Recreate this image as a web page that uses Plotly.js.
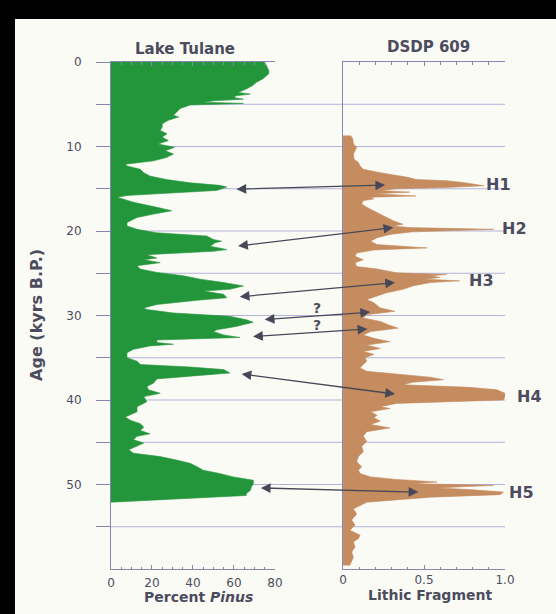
<!DOCTYPE html>
<html><head><meta charset="utf-8">
<script src="https://cdn.plot.ly/plotly-3.0.1.min.js"></script>
<style>
html,body{margin:0;padding:0;background:#000;width:556px;height:614px;overflow:hidden}
#chart{position:absolute;left:15px;top:19px;width:541px;height:595px}
</style></head><body><div id="chart"></div>
<script>
// ---- Data: Lake Tulane, percent Pinus vs age (kyr B.P.) ----
const pinusAge = [
0, 0.5, 1.0, 1.4, 2.0, 2.4, 2.8, 3.2, 3.6, 3.8,
4.0, 4.2, 4.4, 4.6, 4.75, 4.9, 5.1, 5.5, 5.9, 6.3,
6.5, 6.9, 7.3, 7.7, 8.1, 8.5, 8.9, 9.3, 9.7, 10.1,
10.5, 10.9, 11.3, 11.7, 12.1, 12.3, 12.7, 13.1, 13.5, 13.9,
14.3, 14.6, 14.8, 15.2, 15.6, 15.8, 16.0, 16.6, 17.2, 17.6,
18.0, 18.4, 19.0, 19.4, 19.8, 20.2, 20.6, 21.0, 21.2, 21.4,
21.8, 22.2, 22.4, 22.8, 23.2, 23.4, 23.75, 24.1, 24.5, 24.9,
25.3, 25.7, 26.1, 26.5, 26.9, 27.1, 27.5, 27.9, 28.2, 28.7,
29.1, 29.3, 29.7, 30.1, 30.5, 30.8, 31.3, 31.7, 31.9, 32.3,
32.6, 32.9, 33.2, 33.4, 33.6, 34.0, 34.4, 35.0, 35.4, 35.8,
36.1, 36.4, 36.8, 37.2, 37.5, 38.0, 38.4, 38.8, 39.2, 39.6,
40.2, 40.8, 41.4, 42.0, 42.4, 42.8, 43.2, 43.6, 44.0, 44.3,
44.7, 45.1, 45.5, 45.9, 46.3, 46.7, 47.1, 47.5, 47.9, 48.3,
48.7, 49.1, 49.5, 49.9, 50.3, 50.7, 51.1, 51.3, 52.1
];
const pinusPct = [
75, 76, 77, 77, 74, 71, 69, 66, 62, 68,
61, 60, 64.6, 50, 45, 64.6, 38.6, 33.8, 32, 30.5,
33, 28, 25, 25, 24, 27.3, 25, 28, 23, 31,
26.5, 30.5, 27, 20.8, 7, 7.8, 14.3, 16, 19, 27,
38.6, 53, 56.5, 51.6, 22.4, 7.8, 3, 11, 22.4, 29.7,
20.8, 12.7, 7.8, 7.8, 12.7, 22, 46.7, 50, 54, 50.8,
48.4, 56.5, 50, 17.5, 22.4, 16, 24, 12.7, 14.3, 22.4,
35.4, 43.5, 55, 64.6, 58, 45, 55, 56.5, 42, 22.4,
16, 17.5, 30.5, 58, 66, 69.5, 61, 51.6, 50, 55,
63, 22.4, 22.4, 30.5, 19, 11, 7.8, 7.8, 12.7, 14.3,
38.6, 55, 58, 38.6, 22.4, 20.8, 17.5, 18.3, 24, 16,
17.5, 12.7, 12.7, 7, 9.4, 14.3, 16, 14.3, 19, 12.7,
11, 16, 12.7, 8.6, 11, 24, 32, 38.6, 42, 45,
53, 59.7, 69.5, 69.5, 68.5, 68, 66, 66, 0
];
// ---- Data: DSDP 609, lithic fragment vs age ----
const lithicAge = [
8.7, 9.1, 9.7, 10.1, 10.5, 10.9, 11.5, 11.9, 12.3, 12.7,
13.1, 13.3, 13.5, 13.65, 13.9, 14.05, 14.25, 14.45, 14.65, 14.85,
15.0, 15.2, 15.4, 15.6, 15.85, 16.0, 16.2, 16.4, 16.8, 17.2,
17.6, 18.0, 18.4, 18.8, 19.2, 19.4, 19.6, 19.8, 20.1, 20.4,
20.8, 21.2, 21.6, 22.0, 22.25, 22.6, 23.0, 23.4, 23.75, 24.2,
24.5, 24.95, 25.15, 25.3, 25.5, 25.7, 25.9, 26.1, 26.5, 26.9,
27.3, 27.7, 28.1, 28.5, 29.1, 29.5, 29.9, 30.3, 30.7, 31.1,
31.5, 31.9, 32.3, 32.7, 33.1, 33.5, 33.9, 34.25, 34.6, 35.0,
35.4, 35.8, 36.2, 36.6, 37.0, 37.3, 37.6, 37.9, 38.2, 38.5,
38.8, 39.2, 39.6, 40.0, 40.4, 40.8, 41.0, 41.4, 41.8, 42.1,
42.5, 42.9, 43.3, 43.75, 44.3, 44.9, 45.5, 46.1, 46.7, 47.3,
47.9, 48.3, 48.7, 49.1, 49.4, 49.7, 49.9, 50.1, 50.4, 50.6,
50.9, 51.2, 51.5, 51.8, 52.1, 52.5, 52.9, 53.5, 54.2, 54.8,
55.4, 56.0, 56.4, 56.8, 57.4, 58.0, 58.6, 59.2, 59.6
];
const lithicVal = [
0.047, 0.06, 0.064, 0.084, 0.074, 0.064, 0.068, 0.095, 0.105, 0.125,
0.23, 0.29, 0.37, 0.40, 0.45, 0.64, 0.74, 0.80, 0.87, 0.64,
0.33, 0.23, 0.41, 0.19, 0.45, 0.17, 0.19, 0.125, 0.115, 0.146,
0.19, 0.23, 0.27, 0.31, 0.37, 0.31, 0.41, 0.93, 0.43, 0.29,
0.21, 0.17, 0.21, 0.52, 0.19, 0.084, 0.074, 0.125, 0.074, 0.084,
0.21, 0.33, 0.64, 0.54, 0.60, 0.50, 0.72, 0.54, 0.43, 0.37,
0.27, 0.21, 0.146, 0.19, 0.23, 0.32, 0.146, 0.125, 0.23, 0.28,
0.34, 0.17, 0.125, 0.19, 0.29, 0.146, 0.23, 0.125, 0.19, 0.136,
0.146, 0.125, 0.105, 0.146, 0.35, 0.54, 0.62, 0.43, 0.37, 0.78,
0.95, 1.0, 1.0, 0.99, 0.33, 0.23, 0.29, 0.17, 0.21, 0.19,
0.23, 0.17, 0.29, 0.146, 0.125, 0.146, 0.115, 0.125, 0.095, 0.084,
0.115, 0.095, 0.105, 0.17, 0.33, 0.58, 0.43, 0.93, 0.58, 0.78,
0.99, 0.97, 0.54, 0.33, 0.146, 0.105, 0.064, 0.084, 0.053, 0.074,
0.043, 0.105, 0.095, 0.064, 0.074, 0.053, 0.064, 0.05, 0.04
];
// ---- Correlation arrows (Pinus end <-> lithic end) ----
const arrowPinusAge  = [15.05, 21.8, 27.8, 30.5, 32.5, 36.9, 50.4];
const arrowPinus     = [60.5, 61.3, 62.1, 74.3, 68.6, 63.0, 72.4];
const arrowLithicAge = [14.57, 19.6, 26.1, 29.6, 31.6, 39.3, 50.9];
const arrowLithic    = [0.26, 0.31, 0.321, 0.167, 0.15, 0.321, 0.465];
// ---- Heinrich event labels ----
const heinrichLabels = ['H1', 'H2', 'H3', 'H4', 'H5'];
const heinrichAge    = [14.45, 19.7, 25.8, 39.6, 51.0];
const heinrichLithic = [0.959, 1.06, 0.856, 1.154, 1.103];
// ---- Uncertain correlations ----
const questionAge = [29.15, 31.1];
// ---- Axis ticks ----
const ageTickVals = [0, 5, 10, 15, 20, 25, 30, 35, 40, 45, 50, 55];
const ageTickText = ['0', '', '10', '', '20', '', '30', '', '40', '', '50', ''];
const pinusTickVals = [0, 20, 40, 60, 80];
const lithicTickVals = [0, 0.5, 1];
const lithicTickText = ['0', '0.5', '1.0'];

const GREEN = '#23963b', BROWN = '#c48c5f', AX = '#8587b0', GRID = '#b1b3da',
      TXT = '#4b4c5e', ARROW = '#474857', FONT = 'DejaVu Sans';
const LEFT_DOM = [0, 0.416], RIGHT_DOM = [0.589, 1];
const PINUS_MAX = 80, LITHIC_MAX = 1;
const fracLeft = v => LEFT_DOM[0] + (LEFT_DOM[1] - LEFT_DOM[0]) * v / PINUS_MAX;
const fracRight = v => RIGHT_DOM[0] + (RIGHT_DOM[1] - RIGHT_DOM[0]) * v / LITHIC_MAX;
const Q_X = 0.524;

const traces = [
  {x: pinusPct, y: pinusAge, type: 'scatter', mode: 'lines', fill: 'tozerox',
   fillcolor: GREEN, line: {color: GREEN, width: 0.6}, xaxis: 'x', yaxis: 'y', hoverinfo: 'skip'},
  {x: lithicVal, y: lithicAge, type: 'scatter', mode: 'lines', fill: 'tozerox',
   fillcolor: BROWN, line: {color: BROWN, width: 0.6}, xaxis: 'x2', yaxis: 'y2', hoverinfo: 'skip'},
  {x: [], y: [], type: 'scatter', mode: 'lines', xaxis: 'x3', yaxis: 'y', hoverinfo: 'skip'}
];

const shapes = ageTickVals.filter(a => a > 0).map(a => ({
  type: 'line', xref: 'paper', yref: 'y', x0: 0, x1: 1, y0: a, y1: a,
  line: {color: GRID, width: 1}, layer: 'below'
}));

const annotations = [];
for (let i = 0; i < arrowPinus.length; i++) {
  annotations.push({
    xref: 'x3', yref: 'y', axref: 'x3', ayref: 'y',
    x: fracRight(arrowLithic[i]), y: arrowLithicAge[i],
    ax: fracLeft(arrowPinus[i]), ay: arrowPinusAge[i],
    text: '', showarrow: true, arrowside: 'end+start',
    arrowhead: 2, startarrowhead: 2, arrowsize: 1.5, startarrowsize: 1.5,
    arrowwidth: 1.3, arrowcolor: ARROW, standoff: 0, startstandoff: 0
  });
}
heinrichLabels.forEach((t, i) => annotations.push({
  xref: 'paper', yref: 'y', x: fracRight(heinrichLithic[i]), y: heinrichAge[i],
  text: t, showarrow: false, xanchor: 'center', yanchor: 'middle',
  font: {family: FONT, size: 16, color: TXT, weight: 'bold'}
}));
questionAge.forEach(a => annotations.push({
  xref: 'paper', yref: 'y', x: Q_X, y: a, text: '?', showarrow: false,
  xanchor: 'center', yanchor: 'middle',
  font: {family: FONT, size: 14, color: TXT, weight: 'bold'}
}));
const txt = (text, x, y, size, extra) => Object.assign({
  xref: 'paper', yref: 'paper', x: x, y: y, text: text, showarrow: false,
  xanchor: 'center', yanchor: 'middle',
  font: {family: FONT, size: size, color: TXT, weight: 'bold'}
}, extra || {});
annotations.push(txt('Lake Tulane', 0.188, 1.0256, 15));
annotations.push(txt('DSDP 609', 0.805, 1.0296, 15));
annotations.push(txt('Percent <i>Pinus</i>', 0.221, -0.0552, 14));
annotations.push(txt('Lithic Fragment', 0.81, -0.0512, 14));
annotations.push(txt('Age (kyrs B.P.)', -0.188, 0.501, 16, {textangle: -90}));

const xCommon = {
  showline: true, linecolor: AX, linewidth: 1, mirror: 'ticks',
  ticks: 'inside', ticklen: 4, tickcolor: AX, tickwidth: 1,
  showgrid: false, zeroline: false, fixedrange: true,
  tickfont: {family: FONT, size: 12, color: TXT}, ticklabelstandoff: 3
};
const layout = {
  width: 541, height: 595,
  margin: {l: 96, r: 51, t: 43, b: 45, pad: 0},
  paper_bgcolor: '#fbfbf6', plot_bgcolor: 'rgba(0,0,0,0)',
  showlegend: false,
  font: {family: FONT, color: TXT},
  xaxis: Object.assign({}, xCommon, {
    domain: LEFT_DOM, range: [0, PINUS_MAX], anchor: 'y',
    tickmode: 'array', tickvals: pinusTickVals,
    minor: {tickmode: 'linear', tick0: 0, dtick: 5, ticks: 'inside', ticklen: 2.5, tickcolor: AX, showgrid: false}
  }),
  xaxis2: Object.assign({}, xCommon, {
    domain: RIGHT_DOM, range: [0, LITHIC_MAX], anchor: 'y2',
    tickmode: 'array', tickvals: lithicTickVals, ticktext: lithicTickText,
    ticklabelstandoff: 0,
    minor: {tickmode: 'linear', tick0: 0, dtick: 0.1, ticks: 'inside', ticklen: 2.5, tickcolor: AX, showgrid: false}
  }),
  xaxis3: {domain: [0, 1], range: [0, 1], anchor: 'y', visible: false, fixedrange: true},
  yaxis: {
    domain: [0, 1], range: [60, 0], anchor: 'x',
    showline: true, linecolor: AX, linewidth: 1,
    ticks: 'outside', ticklen: 14, tickcolor: AX, tickwidth: 1,
    tickmode: 'array', tickvals: ageTickVals, ticktext: ageTickText,
    showgrid: false, zeroline: false, fixedrange: true,
    tickfont: {family: FONT, size: 12, color: TXT}, ticklabelstandoff: 12
  },
  yaxis2: {
    matches: 'y', range: [60, 0], anchor: 'x2',
    showline: true, linecolor: AX, linewidth: 1,
    ticks: '', showticklabels: false, showgrid: false, zeroline: false, fixedrange: true
  },
  shapes: shapes,
  annotations: annotations
};
Plotly.newPlot('chart', traces, layout, {staticPlot: true, displayModeBar: false});
</script></body></html>
